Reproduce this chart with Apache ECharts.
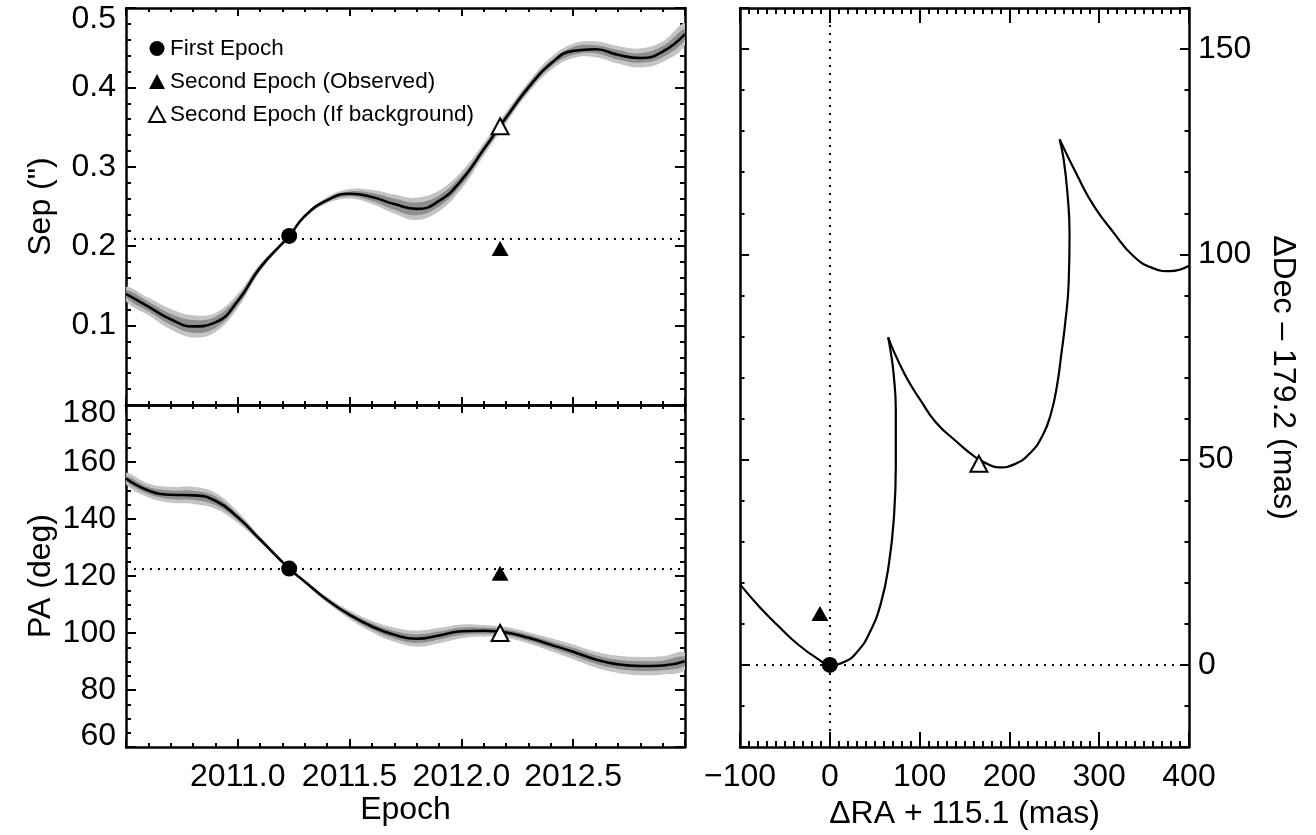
<!DOCTYPE html>
<html>
<head>
<meta charset="utf-8">
<title>Sep / PA / offset track</title>
<script src="https://cdn.jsdelivr.net/npm/echarts@6/dist/echarts.min.js"></script>
<style>
  html, body { margin: 0; padding: 0; background: #fff; }
  #chart { width: 1316px; height: 835px; }
</style>
</head>
<body>
<div id="chart"></div>
<script>
// model epochs (shared by Sep and PA curves)
var epochs = [2010.5, 2010.6, 2010.7, 2010.8, 2010.9, 2011.0, 2011.1, 2011.23, 2011.3, 2011.4, 2011.5, 2011.6, 2011.7,
  2011.8, 2011.9, 2012.0, 2012.1, 2012.2, 2012.3, 2012.4, 2012.5, 2012.6, 2012.7, 2012.8, 2012.9, 2013.0];
// separation of a background source (arcsec) + half widths of the two shaded bands
var sepModel = [0.140, 0.124, 0.108, 0.099, 0.104, 0.131, 0.173, 0.213, 0.238, 0.258, 0.266, 0.262, 0.253,
  0.247, 0.257, 0.283, 0.322, 0.362, 0.400, 0.430, 0.446, 0.448, 0.441, 0.437, 0.445, 0.467];
var sepBandOuter = [0.009, 0.011, 0.013, 0.014, 0.012, 0.009, 0.005, 0.000, 0.002, 0.004, 0.006, 0.009, 0.012,
  0.014, 0.013, 0.011, 0.008, 0.007, 0.007, 0.008, 0.009, 0.010, 0.011, 0.012, 0.013, 0.014];
var sepBandInner = [0.005, 0.006, 0.007, 0.008, 0.007, 0.005, 0.003, 0.000, 0.001, 0.002, 0.003, 0.005, 0.007,
  0.008, 0.007, 0.006, 0.004, 0.004, 0.004, 0.004, 0.005, 0.005, 0.006, 0.006, 0.007, 0.007];
// position angle (deg)
var paModel = [154.2, 150.0, 148.5, 148.3, 146.4, 140.6, 132.8, 122.6, 118.0, 111.6, 106.4, 102.3, 99.4,
  98.0, 99.1, 100.6, 100.8, 100.2, 98.3, 95.9, 93.4, 90.7, 89.0, 88.4, 88.6, 90.1];
var paBandOuter = [2.0, 2.4, 2.8, 3.0, 2.8, 2.0, 1.0, 0.0, 0.5, 1.0, 1.5, 2.0, 2.5,
  2.8, 2.7, 2.4, 2.0, 1.9, 2.0, 2.3, 2.6, 2.8, 3.0, 3.2, 3.2, 3.1];
var paBandInner = [1.0, 1.2, 1.5, 1.6, 1.5, 1.0, 0.5, 0.0, 0.3, 0.5, 0.8, 1.1, 1.3,
  1.5, 1.4, 1.3, 1.1, 1.0, 1.1, 1.2, 1.4, 1.5, 1.6, 1.7, 1.7, 1.6];

var sepRef = 0.213;
var paRef = 122.6;

var firstSep = [[2011.23, 0.213]];
var secondObsSep = [[2012.173, 0.197]];
var secondBgSep = [[2012.173, 0.351]];
var firstPa = [[2011.23, 122.6]];
var secondObsPa = [[2012.173, 121.0]];
var secondBgPa = [[2012.173, 100.0]];

// offset track (dRA, dDec in mas), split at the two cusps
var trackA = [[-100, 19.6], [-79, 14.3], [-57, 9.4], [-35, 4.9], [-13, 1.4], [0, 0], [17, 0.8], [31, 3.3],
  [44, 7.7], [57, 15.1], [66, 24.9], [71.5, 36.3], [73.5, 48.5], [73.5, 62], [71, 71], [68, 76], [65, 79.8]];
var trackB = [[65, 79.8], [72, 76], [83, 71], [92, 67.5], [100, 64.8], [118, 59.1], [140, 54.6], [162, 50.6],
  [175, 49], [188, 48.1], [206, 48.9], [224, 51.8], [237, 55.9], [246, 61], [253, 68], [258, 76],
  [262, 83], [266, 93], [267, 105], [264.6, 115], [260.5, 123], [256, 128]];
var trackC = [[256, 128], [276, 119], [294, 111.8], [316, 105.3], [338, 99.6], [359, 96.7], [379, 95.9], [400, 97.2]];
var firstOff = [[0, 0]];
var secondObsOff = [[-11, 12.5]];
var secondBgOff = [[166, 49]];

// tick labels
var epochLabels = [2011.0, 2011.5, 2012.0, 2012.5];
var sepLabels = [0.1, 0.2, 0.3, 0.4, 0.5];
var paLabels = [60, 80, 100, 120, 140, 160, 180];
var raLabels = [-100, 0, 100, 200, 300, 400];
var decLabels = [0, 50, 100, 150];

(function() {
  var chart = echarts.init(document.getElementById("chart"));
  var font = "'Liberation Sans', Arial, Helvetica, sans-serif";
  var FS = 32;
  var LIGHT = "#c4c4c4";
  var DARK = "#8e8e8e";

  function inList(list, v) {
    for (var i = 0; i < list.length; i++) {
      if (Math.abs(list[i] - v) < 1e-6) return true;
    }
    return false;
  }

  function pairs(xs, ys) {
    return xs.map(function(x, i) { return [x, ys[i]]; });
  }

  // one value axis, o holds the settings
  function axis(o) {
    var a = {
      type: "value",
      gridIndex: o.grid,
      position: o.pos,
      min: o.min,
      max: o.max,
      axisLine: { show: o.line !== false, onZero: false, lineStyle: { color: "#000", width: 2.5 } },
      axisTick: { show: true, inside: true, length: o.tick, lineStyle: { color: "#000", width: 2 } },
      minorTick: { show: !!o.minor, splitNumber: o.minor || 5, length: o.minorLen, lineStyle: { color: "#000", width: 2 } },
      splitLine: { show: false },
      minorSplitLine: { show: false },
      axisLabel: { show: false }
    };
    if (o.interval != null) a.interval = o.interval;
    if (o.fixed != null) { a.minInterval = o.fixed; a.maxInterval = o.fixed; }
    if (o.labels) {
      a.axisLabel = {
        show: true,
        margin: o.margin,
        showMinLabel: true,
        showMaxLabel: true,
        color: "#000",
        fontSize: FS,
        fontFamily: font,
        formatter: function(v) {
          if (!inList(o.labels, v)) return "";
          var t = o.fmt ? o.fmt(v) : String(v);
          if (o.dn != null && Math.abs(v - o.max) < 1e-6) return "{dn|" + t + "}";
          if (o.up != null && Math.abs(v - o.min) < 1e-6) return "{up|" + t + "}";
          return t;
        },
        rich: {
          dn: { padding: [o.dn || 0, 0, 0, 0], fontSize: FS, fontFamily: font, color: "#000" },
          up: { padding: [0, 0, o.up || 0, 0], fontSize: FS, fontFamily: font, color: "#000" }
        }
      };
    }
    if (o.name) {
      a.name = o.name;
      a.nameLocation = "middle";
      a.nameGap = o.nameGap;
      if (o.nameRotate != null) a.nameRotate = o.nameRotate;
      a.nameTextStyle = { color: "#000", fontSize: FS, fontFamily: font };
    }
    return a;
  }

  // shaded band drawn as one smoothed polygon through the axis scales
  function band(xi, yi, values, half, color) {
    var upper = values.map(function(v, i) { return v + half[i]; });
    var lower = values.map(function(v, i) { return v - half[i]; });
    return {
      type: "custom", xAxisIndex: xi, yAxisIndex: yi, silent: true, z: 1, clip: true,
      data: epochs.map(function(t, i) { return [t, lower[i], upper[i]]; }),
      encode: { x: 0, y: [1, 2] },
      renderItem: function(params, api) {
        if (params.dataIndex !== 0) return null;
        var pts = [];
        for (var i = 0; i < epochs.length; i++) pts.push(api.coord([epochs[i], upper[i]]));
        for (var j = epochs.length - 1; j >= 0; j--) pts.push(api.coord([epochs[j], lower[j]]));
        return { type: "polygon", shape: { points: pts, smooth: 0.4 }, style: { fill: color } };
      }
    };
  }

  function dotted(list) {
    return {
      silent: true, symbol: ["none", "none"], label: { show: false },
      lineStyle: { color: "#000", width: 2, type: [2, 6] },
      data: list
    };
  }

  function marks(xi, yi, first, obs, bg, size) {
    return [
      {
        name: "First Epoch", type: "scatter", xAxisIndex: xi, yAxisIndex: yi, data: first,
        symbol: "circle", symbolSize: size, itemStyle: { color: "#000", opacity: 1 }, z: 6
      },
      {
        name: "Second Epoch (Observed)", type: "scatter", xAxisIndex: xi, yAxisIndex: yi, data: obs,
        symbol: "triangle", symbolSize: [size + 1, size - 1], itemStyle: { color: "#000", opacity: 1 }, z: 6
      },
      {
        name: "Second Epoch (If background)", type: "scatter", xAxisIndex: xi, yAxisIndex: yi, data: bg,
        symbol: "triangle", symbolSize: [size + 1, size],
        itemStyle: { color: "#fff", borderColor: "#000", borderWidth: 2, opacity: 1 }, z: 6
      }
    ];
  }

  function curve(name, xi, yi, data, width, mark) {
    var s = {
      name: name, type: "line", xAxisIndex: xi, yAxisIndex: yi, data: data,
      smooth: true, symbol: "none", lineStyle: { color: "#000", width: width }, z: 3
    };
    if (mark) s.markLine = mark;
    return s;
  }

  var fmt1 = function(v) { return v.toFixed(1); };
  var fmtMinus = function(v) { return String(v).replace("-", "\u2212"); };

  var xAxes = [
    axis({ grid: 0, pos: "bottom", min: 2010.5, max: 2013.0, interval: 0.5, tick: 8, minor: 5, minorLen: 4 }),
    axis({ grid: 0, pos: "top", min: 2010.5, max: 2013.0, interval: 0.5, tick: 8, minor: 5, minorLen: 4 }),
    axis({ grid: 1, pos: "bottom", min: 2010.5, max: 2013.0, interval: 0.5, tick: 8, minor: 5, minorLen: 4,
      labels: epochLabels, fmt: fmt1, margin: 14, name: "Epoch", nameGap: 47 }),
    axis({ grid: 1, pos: "top", min: 2010.5, max: 2013.0, interval: 0.5, tick: 8, minor: 5, minorLen: 4 }),
    axis({ grid: 2, pos: "bottom", min: -100, max: 400, interval: 100, tick: 15, minor: 10, minorLen: 6,
      labels: raLabels, fmt: fmtMinus, margin: 14, name: "\u0394RA + 115.1 (mas)", nameGap: 47 }),
    axis({ grid: 2, pos: "top", min: -100, max: 400, interval: 100, tick: 15, minor: 10, minorLen: 6 })
  ];

  var yAxes = [
    axis({ grid: 0, pos: "left", min: 0, max: 0.5, interval: 0.1, tick: 10, minor: 5, minorLen: 5,
      labels: sepLabels, fmt: fmt1, margin: 10, dn: 22, name: "Sep (\")", nameGap: 69, nameRotate: 90 }),
    axis({ grid: 0, pos: "right", min: 0, max: 0.5, interval: 0.1, tick: 10, minor: 5, minorLen: 5 }),
    axis({ grid: 1, pos: "left", min: 60, max: 180, interval: 20, tick: 10, minor: 4, minorLen: 5,
      labels: paLabels, margin: 10, dn: 16, up: 22, name: "PA (deg)", nameGap: 69, nameRotate: 90 }),
    axis({ grid: 1, pos: "right", min: 60, max: 180, interval: 20, tick: 10, minor: 4, minorLen: 5 }),
    // right panel: 10 mas ticks carry the labels, a second pair gives the long 50 mas ticks
    axis({ grid: 2, pos: "right", min: -20, max: 160, interval: 10, tick: 4.5,
      labels: decLabels, margin: 9, name: "\u0394Dec \u2013 179.2 (mas)", nameGap: 78, nameRotate: -90 }),
    axis({ grid: 2, pos: "left", min: -20, max: 160, interval: 10, tick: 4.5 }),
    axis({ grid: 2, pos: "right", min: -20, max: 160, fixed: 50, tick: 9, line: false }),
    axis({ grid: 2, pos: "left", min: -20, max: 160, fixed: 50, tick: 9, line: false })
  ];

  var series = [
    band(0, 0, sepModel, sepBandOuter, LIGHT),
    band(0, 0, sepModel, sepBandInner, DARK),
    curve("sep", 0, 0, pairs(epochs, sepModel), 2.6, dotted([{ yAxis: sepRef }])),
    band(2, 2, paModel, paBandOuter, LIGHT),
    band(2, 2, paModel, paBandInner, DARK),
    curve("pa", 2, 2, pairs(epochs, paModel), 2.6, dotted([{ yAxis: paRef }])),
    curve("trackA", 4, 4, trackA, 2.2, dotted([{ xAxis: 0 }, { yAxis: 0 }])),
    curve("trackB", 4, 4, trackB, 2.2),
    curve("trackC", 4, 4, trackC, 2.2)
  ]
    .concat(marks(0, 0, firstSep, secondObsSep, secondBgSep, 16))
    .concat(marks(2, 2, firstPa, secondObsPa, secondBgPa, 16))
    .concat(marks(4, 4, firstOff, secondObsOff, secondBgOff, 16));

  var option = {
    animation: false,
    backgroundColor: "#fff",
    textStyle: { fontFamily: font },
    grid: [
      { left: 126, top: 8, width: 559, height: 397, containLabel: false, outerBoundsMode: "none" },
      { left: 126, top: 405, width: 559, height: 342, containLabel: false, outerBoundsMode: "none" },
      { left: 740, top: 8, width: 449, height: 739, containLabel: false, outerBoundsMode: "none" }
    ],
    legend: {
      orient: "vertical",
      left: 148,
      top: 37,
      padding: 0,
      itemGap: 10,
      itemWidth: 16,
      itemHeight: 15,
      selectedMode: false,
      textStyle: { fontSize: 22.5, lineHeight: 22, color: "#000", fontFamily: font },
      data: [
        { name: "First Epoch", itemStyle: { color: "#000", opacity: 1 } },
        { name: "Second Epoch (Observed)", itemStyle: { color: "#000", opacity: 1 } },
        { name: "Second Epoch (If background)", itemStyle: { color: "#fff", borderColor: "#000", borderWidth: 2, opacity: 1 } }
      ]
    },
    xAxis: xAxes,
    yAxis: yAxes,
    series: series
  };

  chart.setOption(option);
})();
</script>
</body>
</html>
